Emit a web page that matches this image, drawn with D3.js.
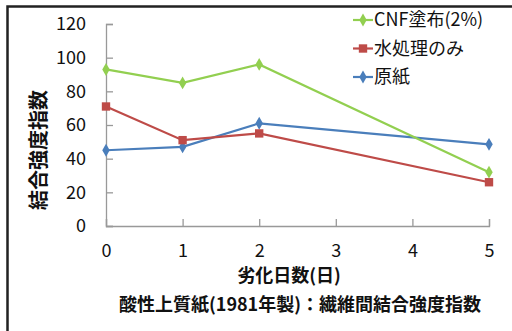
<!DOCTYPE html>
<html>
<head>
<meta charset="utf-8">
<script src="https://cdn.jsdelivr.net/npm/d3@7"></script>
<style>
  body { margin: 0; background: #fff; }
  text { font-family: "Noto Sans CJK JP", "Open Sans", sans-serif; fill: #111; }
</style>
</head>
<body>
<div id="chart"></div>
<script>
var svgWidth = 512;
var svgHeight = 331;

// data
var days = [0, 1, 2, 5];
var cnfValues = [93, 85, 96, 32];
var waterValues = [71, 51, 55, 26];
var rawValues = [45, 47, 61, 48.5];
var seriesNames = ["CNF塗布(2%)", "水処理のみ", "原紙"];
var xTicks = [0, 1, 2, 3, 4, 5];
var yTicks = [0, 20, 40, 60, 80, 100, 120];

var series = [
    { name: seriesNames[0], values: cnfValues, color: "#92CF50", marker: "diamond" },
    { name: seriesNames[1], values: waterValues, color: "#BE4B48", marker: "square" },
    { name: seriesNames[2], values: rawValues, color: "#4A7EBB", marker: "diamond" }
];

var svg = d3.select("#chart")
    .append("svg")
    .attr("width", svgWidth)
    .attr("height", svgHeight);

// outer frame
svg.append("rect")
    .attr("x", 7.5)
    .attr("y", 6.5)
    .attr("width", 520)
    .attr("height", 340)
    .attr("fill", "none")
    .attr("stroke", "#222")
    .attr("stroke-width", 2.5);

var xScale = d3.scaleLinear().domain([0, 5]).range([106, 489]);
var yScale = d3.scaleLinear().domain([0, 120]).range([226, 24]);

// x axis
var xAxis = svg.append("g")
    .attr("transform", `translate(0, ${yScale(0)})`)
    .call(d3.axisBottom(xScale).tickValues(xTicks).tickSize(-7).tickPadding(18).tickFormat(d3.format("d")));
xAxis.select(".domain").attr("stroke", "#999").attr("stroke-width", 1.3);
xAxis.selectAll(".tick line").attr("stroke", "#999").attr("stroke-width", 1.3);
xAxis.selectAll(".tick text").attr("font-size", "18px").style("font-family", "\"Noto Sans CJK JP\", sans-serif").attr("fill", "#111");

// y axis
var yAxis = svg.append("g")
    .attr("transform", `translate(${xScale(0)}, 0)`)
    .call(d3.axisLeft(yScale).tickValues(yTicks).tickSize(-7).tickPadding(20));
yAxis.select(".domain").attr("stroke", "#999").attr("stroke-width", 1.3);
yAxis.selectAll(".tick line").attr("stroke", "#999").attr("stroke-width", 1.3);
yAxis.selectAll(".tick text").attr("font-size", "18px").style("font-family", "\"Noto Sans CJK JP\", sans-serif").attr("fill", "#111");

var line = d3.line()
    .x((d, i) => xScale(days[i]))
    .y(d => yScale(d));

var diamond = d3.symbol().type(d3.symbolDiamond).size(48);
var square = d3.symbol().type(d3.symbolSquare).size(70);

// draw the blue first so green sits on top like the picture
series.slice().reverse().forEach(function (s) {
    svg.append("path")
        .datum(s.values)
        .attr("d", line)
        .attr("fill", "none")
        .attr("stroke", s.color)
        .attr("stroke-width", 2.2);

    svg.selectAll(null)
        .data(s.values)
        .enter()
        .append("path")
        .attr("transform", (d, i) => `translate(${xScale(days[i])}, ${yScale(d)})`)
        .attr("d", s.marker === "square" ? square : diamond)
        .attr("fill", s.color);
});

// legend
var legend = svg.append("g");
series.forEach(function (s, i) {
    var y = 20 + i * 28.5;
    legend.append("line")
        .attr("x1", 353).attr("x2", 373)
        .attr("y1", y).attr("y2", y)
        .attr("stroke", s.color).attr("stroke-width", 2.2);
    legend.append("path")
        .attr("transform", `translate(363, ${y})`)
        .attr("d", s.marker === "square" ? square : diamond)
        .attr("fill", s.color);
    legend.append("text")
        .attr("x", 374)
        .attr("y", y)
        .attr("dy", "0.36em")
        .attr("font-size", "18px")
        .text(s.name);
});

// axis titles
svg.append("text")
    .attr("x", 289)
    .attr("y", 276)
    .attr("dy", "0.36em")
    .attr("text-anchor", "middle")
    .attr("font-size", "18px")
    .attr("font-weight", "bold")
    .text("劣化日数(日)");

svg.append("text")
    .attr("transform", "translate(39, 150) rotate(-90)")
    .attr("dy", "0.36em")
    .attr("text-anchor", "middle")
    .attr("font-size", "20px")
    .attr("font-weight", "bold")
    .text("結合強度指数");

svg.append("text")
    .attr("x", 300)
    .attr("y", 305)
    .attr("dy", "0.36em")
    .attr("text-anchor", "middle")
    .attr("font-size", "18px")
    .attr("font-weight", "bold")
    .text("酸性上質紙(1981年製)：繊維間結合強度指数");
</script>
</body>
</html>
